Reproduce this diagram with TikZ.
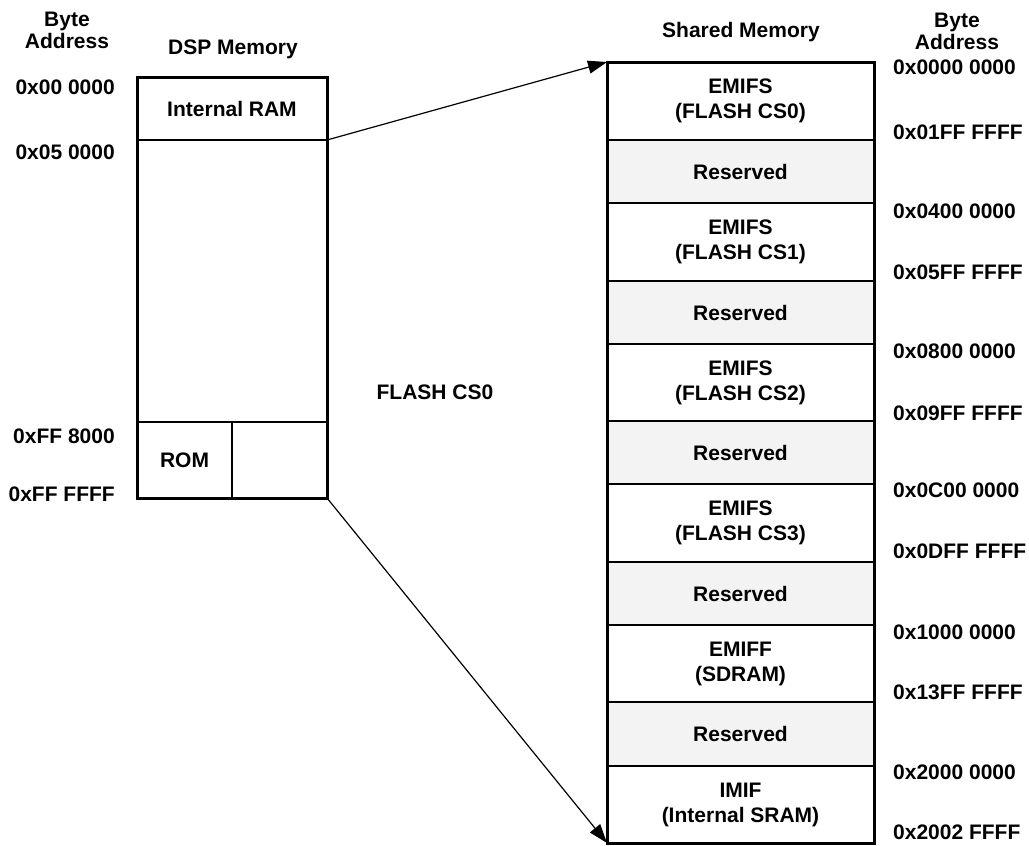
\documentclass[tikz,border=0pt]{standalone}
\usepackage{fontspec}
\setmainfont{Liberation Sans}
\usetikzlibrary{arrows.meta}
\definecolor{resgray}{RGB}{243,243,243}
\begin{document}
\begin{tikzpicture}[x=1pt,y=-1pt,
  font=\fontsize{21}{25}\selectfont\bfseries,
  lcell/.style={draw, line width=1.3pt, inner sep=0pt, outer sep=0pt, anchor=north west, align=center},
  rcell/.style={lcell, line width=2pt, minimum width=267pt},
  big/.style={rcell, fill=white},
  res/.style={rcell, fill=resgray},
  outline/.style={draw, line width=3pt},
  lbl/.style={inner sep=0pt, align=center},
  addrR/.style={inner sep=0pt, anchor=west},
  addrL/.style={inner sep=0pt, anchor=east},
  conn/.style={line width=1.2pt, -{Triangle[length=19pt,width=13pt]}}
]
\useasboundingbox (0,0) rectangle (1029,846);

% ---- DSP memory (left) ----
\node[lcell, minimum width=190pt, minimum height=63pt] (lram) at (137,77) {Internal RAM};
\node[lcell, minimum width=190pt, minimum height=282pt] (lmid) at (137,140) {};
\node[lcell, minimum width=95pt, minimum height=76pt] (rom) at (137,422) {ROM};
\node[lcell, minimum width=95pt, minimum height=76pt] (romr) at (232,422) {};
\draw[outline] (lram.north west) rectangle (romr.south east);

\node[lbl] (lba) at (67,30) {Byte\\[-3pt]Address};
\node[lbl] (dsp) at (233,49) {DSP Memory};
\node[addrL] (a1) at (115,87) {0x00 0000};
\node[addrL] (a2) at (115,152) {0x05 0000};
\node[addrL] (a3) at (115,436) {0xFF 8000};
\node[addrL] (a4) at (115,494) {0xFF FFFF};

% ---- Shared memory (right) ----
\node[big, minimum height=78pt] (s1) at (607,62) {EMIFS\\(FLASH CS0)};
\node[res, minimum height=63pt] (s2) at (607,140) {Reserved};
\node[big, minimum height=78pt] (s3) at (607,203) {EMIFS\\(FLASH CS1)};
\node[res, minimum height=63pt] (s4) at (607,281) {Reserved};
\node[big, minimum height=77pt] (s5) at (607,344) {EMIFS\\(FLASH CS2)};
\node[res, minimum height=63pt] (s6) at (607,421) {Reserved};
\node[big, minimum height=78pt] (s7) at (607,484) {EMIFS\\(FLASH CS3)};
\node[res, minimum height=63pt] (s8) at (607,562) {Reserved};
\node[big, minimum height=77pt] (s9) at (607,625) {EMIFF\\(SDRAM)};
\node[res, minimum height=64pt] (s10) at (607,702) {Reserved};
\node[big, minimum height=77pt] (s11) at (607,766) {IMIF\\(Internal SRAM)};
\draw[outline] (s1.north west) rectangle (s11.south east);

\node[lbl] (shm) at (741,32) {Shared Memory};
\node[lbl] (rba) at (957,31) {Byte\\[-3pt]Address};
\node[addrR] (b1) at (893,67) {0x0000 0000};
\node[addrR] (b2) at (893,132) {0x01FF FFFF};
\node[addrR] (b3) at (893,211) {0x0400 0000};
\node[addrR] (b4) at (893,272) {0x05FF FFFF};
\node[addrR] (b5) at (893,351) {0x0800 0000};
\node[addrR] (b6) at (893,413) {0x09FF FFFF};
\node[addrR] (b7) at (893,490) {0x0C00 0000};
\node[addrR] (b8) at (893,551) {0x0DFF FFFF};
\node[addrR] (b9) at (893,632) {0x1000 0000};
\node[addrR] (b10) at (893,692) {0x13FF FFFF};
\node[addrR] (b11) at (893,772) {0x2000 0000};
\node[addrR] (b12) at (893,832) {0x2002 FFFF};

\node[lbl] (fcs) at (435,392) {FLASH CS0};

% ---- connectors ----
\draw[conn] (lram.south east) -- (s1.north west);
\draw[conn] (romr.south east) -- (s11.south west);
\end{tikzpicture}
\end{document}
